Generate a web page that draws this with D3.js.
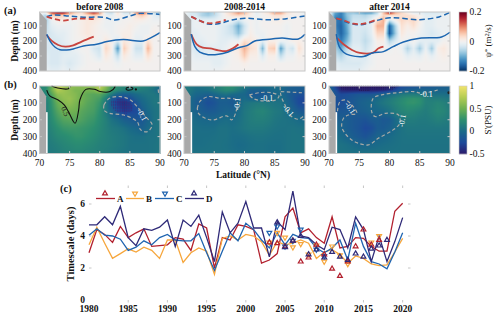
<!DOCTYPE html>
<html><head><meta charset="utf-8">
<script src="https://cdn.jsdelivr.net/npm/d3@7"></script>
<style>html,body{margin:0;padding:0;background:#fff;overflow:hidden}text{font-family:"Liberation Serif",serif;fill:#111}</style>
</head><body><svg id="c" width="500" height="316"></svg>
<script>
const lats = d3.range(70, 91);
const depthsA = [10,30,60,100,150,200,250,300,350,400];
const depthsB = [0,25,50,75,100,150,200,250,300,350,400];
const titles = ["before 2008","2008-2014","after 2014"];
const years = d3.range(1980, 2021);

const psi1 = [
[0,0,14,18,18,10,5,3,10,16,10,-3,-5,3,-4,-4,9,16,5,-5,-8],
[0,-6,4,6,4,2,1,1,3,5,3,-1,-2,1,-1,-1,3,5,2,-2,-3],
[0,-7,-1,1,1,0,0,1,2,2,1,-1,-1,-1,0,0,1,1,0,-1,-1],
[0,-5,-2,-1,-1,-1,0,1,2,1,0,-1,-1,0,0,1,0,-1,-1,0,0],
[0,-4,-3,-2,-2,-1,0,1,2,1,0,0,-1,0,1,1,-1,-1,-1,1,0],
[0,-3,-3,-3,-2,-1,0,0,1,1,-1,2,0,-3,2,1,-2,-2,3,0,0],
[0,-3,-3,-3,-3,-2,-1,0,0,-3,-4,4,1,-12,5,1,-4,-4,7,0,0],
[0,-2,-3,-3,-2,-2,-2,-1,0,-1,-3,2,0,-5,2,0,-2,-2,3,0,0],
[0,-2,-3,-3,-2,-3,-2,-1,0,0,0,0,0,-1,0,0,0,0,0,0,0],
[0,-1,-2,-2,-1,-2,-1,0,0,0,0,0,0,0,0,0,0,0,0,0,0]];
const psi2 = [
[0,-3,-4,-6,-8,-6,-2,2,5,10,7,2,-2,1,3,9,9,3,1,0,-2],
[0,-3,-3,-6,-7,-5,-2,1,3,4,3,1,-1,0,1,3,3,1,0,0,-1],
[0,-2,-1,-2,-2,-2,-1,0,-1,-3,-1,0,-1,0,0,1,1,0,0,0,0],
[0,-2,-1,-1,-1,-1,-2,-3,-5,-10,-4,0,-1,0,0,0,0,-1,0,0,0],
[0,-2,-2,-1,-1,-1,-2,-3,-4,-8,-3,1,-1,-1,0,0,0,-1,0,0,0],
[0,-2,-2,-2,-1,-1,-2,-2,-1,-1,3,2,1,-2,1,1,-1,-1,1,1,0],
[0,-2,-3,-3,-2,-2,-2,-1,1,2,7,3,2,-9,4,5,-11,-2,-4,3,0],
[0,-1,-2,-2,-2,-2,-2,-1,0,1,5,1,1,-3,1,1,-5,-1,-1,1,0],
[0,-1,-1,-1,-1,-2,-2,-1,0,0,1,0,0,0,0,0,0,0,0,0,0],
[0,0,-1,-1,-1,-1,-1,0,0,0,0,0,0,0,0,0,0,0,0,0,0]];
const psi3 = [
[0,-10,-14,-8,-8,-10,-12,-12,-6,6,18,8,4,1,-2,-2,-3,-3,-3,-2,-1],
[0,-12,-14,-8,-5,-5,-6,-4,-2,4,3,3,3,3,2,0,-2,-2,-2,-1,-1],
[0,-14,-15,-9,-4,-4,-4,-2,3,7,-3,1,4,3,4,1,-2,-2,-1,-1,-1],
[0,-14,-16,-10,-3,-3,-3,-2,7,7,-16,-6,3,1,3,0,-2,-2,-1,-1,-1],
[0,-12,-16,-11,-3,-3,-4,-2,4,4,-17,-7,2,0,0,-1,-2,-3,-2,-1,-1],
[0,-8,-14,-9,-3,-3,-5,-3,1,1,-6,-3,0,-1,0,-2,-2,-2,-2,0,0],
[0,-6,-10,-5,-2,-2,-4,-2,0,0,-1,0,-1,-6,-2,-7,-1,-7,1,2,0],
[0,-4,-6,-3,-2,-2,-3,-1,0,0,0,0,0,-2,-1,-2,0,-2,0,1,0],
[0,-2,-3,-3,-3,-3,-2,-1,0,0,0,0,0,0,0,0,0,0,0,0,0],
[0,-1,-2,-2,-2,-2,-1,0,0,0,0,0,0,0,0,0,0,0,0,0,0]];

const sal1 = [
[20,20,45,85,70,62,62,60,62,62,80,62,35,25,20,18,25,18,15,10,0],
[20,20,50,75,68,62,55,55,52,55,70,50,30,20,15,12,15,12,10,5,-5],
[20,15,40,62,65,62,58,50,45,42,42,30,10,-5,-10,-8,0,5,8,8,5],
[15,15,30,55,62,65,58,50,45,40,35,15,-12,-28,-28,-22,-8,0,5,8,8],
[15,12,28,48,58,62,55,50,42,38,30,10,-15,-32,-38,-32,-18,-3,3,8,8],
[10,12,25,40,50,52,50,42,38,35,25,10,-5,-20,-32,-28,-25,-12,0,5,8],
[10,12,22,32,40,42,42,38,33,30,22,15,5,0,-8,-12,-15,-15,-5,5,8],
[10,12,18,25,30,32,32,30,28,25,20,15,10,8,5,0,-3,-8,0,5,8],
[10,10,15,20,22,25,28,28,25,22,18,15,12,10,8,5,3,3,5,5,8],
[10,10,12,15,18,20,22,22,20,18,15,14,12,10,8,5,5,5,5,6,8],
[10,10,10,12,15,16,18,18,16,15,14,12,10,8,6,5,5,5,5,6,8]];
const sal2 = [
[10,8,5,6,8,12,18,25,25,18,12,8,5,2,2,2,0,-5,-10,-10,-8],
[10,8,2,2,4,10,15,20,18,10,2,-8,-8,-8,-5,0,0,-8,-10,-12,-12],
[8,5,-3,-5,-8,-3,2,5,0,-2,-3,-12,-15,-14,-10,-3,0,-8,-15,-20,-20],
[5,0,-8,-12,-18,-14,-8,-8,-12,-5,0,-5,-8,-8,-5,0,3,-5,-15,-25,-27],
[5,0,-10,-14,-22,-18,-10,-10,-13,-3,5,8,10,10,8,6,5,-2,-12,-25,-27],
[5,0,-6,-10,-13,-12,-8,-5,-6,0,8,12,16,18,14,10,8,2,-5,-12,-15],
[5,2,0,-2,-3,-3,0,2,0,3,8,12,14,14,12,8,6,5,3,0,-2],
[5,3,3,2,2,2,5,5,3,5,8,10,10,10,8,6,5,5,6,5,5],
[5,3,3,3,3,4,5,5,2,2,3,5,6,6,5,4,4,5,6,6,5],
[5,3,3,3,4,5,5,4,2,0,1,3,4,4,3,3,3,5,6,6,5],
[5,5,5,5,5,5,5,5,3,2,3,4,4,4,3,3,3,5,6,6,6]];
const sal3 = [
[0,-30,-50,-50,-50,-50,-50,-50,-50,-50,-45,-40,-25,-22,-20,-18,-15,-15,-12,-10,-8],
[0,-20,-42,-45,-45,-45,-45,-45,-45,-42,-35,-25,-15,-10,-8,-5,-5,-5,-5,-5,-5],
[0,-15,-25,-22,-18,-15,-15,-15,-10,-5,0,5,10,12,12,10,5,3,3,3,0],
[0,-18,-22,-18,-14,-10,-8,-5,0,5,10,15,20,25,27,25,15,12,12,10,8],
[0,-20,-22,-18,-14,-8,-5,-2,3,8,12,17,22,27,28,25,15,15,18,15,10],
[0,-15,-15,-14,-12,-10,-8,-4,-2,0,5,12,17,20,18,15,12,16,20,18,12],
[0,-8,-8,-10,-14,-16,-18,-12,-10,-14,-12,0,8,12,12,10,10,12,15,13,10],
[0,0,-5,-10,-14,-18,-25,-22,-12,-12,-8,0,5,8,8,8,8,8,8,8,8],
[0,2,0,-5,-10,-14,-18,-12,-5,-3,0,3,5,6,6,6,6,6,6,6,6],
[0,5,5,3,0,-3,-4,-2,0,2,3,4,5,5,5,5,5,5,5,5,5],
[0,5,5,5,5,5,5,5,5,5,5,5,5,5,5,5,5,5,5,5,5]];

// lat, depth pairs for the overlay lines in panel (a)
const blueSolid = [
[[71.2,155],[71.8,204],[72.6,242],[73.4,258],[74.5,260],[75.6,253],[77.3,233],[79.5,222],[81.2,204],[83.9,191],[87.2,200],[88.6,176],[90,144]],
[[71.2,155],[71.8,238],[72.6,275],[74,291],[75.7,289],[77.3,273],[79,245],[80.4,231],[81.7,200],[84.5,187],[86.2,180],[88.9,187],[90,155]],
[[71.2,155],[71.7,238],[72.4,275],[73.5,296],[75.7,304],[77.3,278],[79,271],[80.6,238],[82.3,207],[85,182],[88.6,173],[90,142]]];
const redSolid = [
[[71.2,160],[72,198],[73.1,227],[74.3,238],[75.6,229],[77,204],[79,171]],
[[71.2,155],[72.1,222],[73.1,245],[74.3,249],[75.7,262],[77,267],[78.1,249],[79,222]],
[[71.3,180],[72.4,222],[73.8,260],[75.1,280],[77.3,278],[78.2,249],[79,238]]];
const blueDash = [
[[71.2,38],[72.3,27],[74.5,33],[77.3,42],[80.6,42],[82.5,60],[85,33],[86.7,16],[90,24]],
[[71.2,38],[72.4,60],[74,87],[75.7,85],[77.9,60],[80.1,49],[83.4,58],[86.7,53],[90,33]],
[[71.2,49],[72.6,71],[75.1,93],[77.6,67],[80.1,45],[85,58],[88.3,38],[90,9]]];
const redDash = [
[[71.2,38],[72.6,55],[74,64],[76.2,51],[79,55]],
[[71.2,38],[72.6,65],[74,82],[75.7,75],[76.9,60]],
[[71.2,49],[72.3,60],[74,85],[75.7,85],[77.6,62]]];

// contours for panel (b)
const black05 = [[71.2,24],[71.7,59],[73.1,83],[74.1,112],[74.8,152],[75.9,221],[76.5,142],[76.7,83],[77.7,20],[79.2,20],[80.1,33],[81.7,33],[82.5,8],[82.5,0]];
const black05top = [[72,0],[73,12],[74.8,16],[75.1,0]];
const black05loop = [[84.4,12],[85,5],[85.5,14],[85,24],[84.4,20],[84.4,12]];
const grayB = [
 [[[80.7,112],[81.6,73],[83.5,63],[85.1,83],[86.2,122],[87.6,181],[88.7,231],[87.9,270],[86.8,260],[86.2,211],[84,172],[81.6,162],[80.7,142],[80.7,112]],
  [[89.7,20],[89.8,53]]],
 [[[72.2,132],[72.6,93],[74,63],[76,73],[77.6,73],[78.7,83],[78.6,152],[77.9,201],[77.05,177],[74.85,201],[73.5,191],[72.4,162],[72.2,132]],
  [[80.8,53],[82.6,39],[84.5,40],[85.7,60],[85,85],[83,88],[81.5,75],[80.8,53]],
  [[85.9,4],[86,53],[86.7,112],[87.5,172],[88.9,197],[90,170]],
  [[86,33],[89.5,40]]],
 [[[71.4,150],[71.8,93],[72.75,83],[74,122],[74.6,162],[73.2,172],[72.4,191],[72.1,241],[72.65,280],[73.75,320],[74.85,339],[76.5,349],[78.15,310],[80.6,260],[81.7,221],[81.5,172],[79.3,162],[77.6,181],[77.05,152],[77.3,73],[78.7,53],[81.5,39],[84,33],[85.3,43],[88.35,20]]]];
const labelsB = [
 [[74.3,150,"0.5",68,"#222"],[87,170,"-0.1",62,"#fff"]],
 [[78.8,107,"-0.1",-85,"#fff"],[83.7,75,"-0.1",0,"#fff"],[87.25,146,"-0.1",50,"#fff"]],
 [[73.5,130,"-0.1",55,"#fff"],[82.1,205,"-0.1",-80,"#fff"],[86.1,47,"-0.1",0,"#fff"]]];
const stipple1 = [[82,90],[83.5,72],[85.2,100],[85.6,140],[84.5,165],[82.5,150],[81.8,115]];
const stipple3 = [[71.8,0],[81.5,0],[80.5,22],[76,28],[72,24]];

const serA = [2.95,4.4,4.1,3.6,4.6,3.9,4.2,4.45,3.35,3.4,3.45,3.9,3.8,3.1,4.75,4.5,2.0,3.9,3.75,4.7,4.6,4.4,2.3,2.5,2.9,5.2,5.75,4.2,4.45,3.9,3.55,5.2,3.25,3.35,3.9,3.85,3.35,3.05,3.05,5.55,6.05];
const serB = [3.45,4.55,3.55,2.6,2.9,3.2,3.0,3.3,3.1,2.6,3.75,3.75,2.35,2.95,3.25,3.05,1.6,3.85,4,3.75,4.1,4,3.65,2.8,3.65,3.45,3.55,3.75,3.55,2.6,3.0,3.15,2.85,2.3,2.75,2.6,2.25,2.15,2.2,3.0,3.85];
const serC = [4.05,4.45,4.05,4,3.8,3.1,3.3,3.7,3.45,3.9,4.1,3.75,3.7,3.7,4.15,2.95,1.85,3.05,4.2,3.7,4.8,4.4,3.75,3.25,4.2,3.45,4.1,3.9,3.85,3.25,2.95,3.25,3.75,2.5,4.8,3.35,2.4,2.25,1.95,3,4.2];
const serD = [4.7,4.7,5.2,4.7,5.85,3.9,3.4,4.45,4.35,4.55,5.0,3.35,5.0,4.6,5.3,3.9,2.4,5.5,4.2,4.8,6.15,4.5,4.5,2.7,4.9,4.4,6.8,4.0,3.9,3.45,3.15,4.55,4.4,3.25,5.2,4.4,2.4,4,2.4,3.65,5.15];
const markA = [[2003,3.6],[2004,3.55],[2005,3.35],[2006,3.7],[2007,2.4],[2008,2.65],[2009,3.45],[2010,2.85],[2011,1.95],[2012,1.5],[2013,2.4],[2014,3.35],[2015,4.4],[2016,3.45],[2017,3.75]];
const markB = [[2003,3.6],[2004,4.2],[2005,3.9],[2006,3.3],[2007,3.5],[2008,2.85],[2009,3.4],[2010,2.4],[2011,3.35],[2012,2.8],[2013,2.25],[2016,3.6],[2017,4.0]];
const markC = [[2003,4.2],[2004,4.6],[2005,3.35],[2006,3.7],[2007,4.4],[2009,3.15],[2010,2.75]];
const markD = [[2004,4.85],[2005,3.3],[2006,3.7],[2007,4],[2008,2.85],[2009,3.15],[2010,2.65],[2011,3],[2012,2.7],[2013,2.5],[2014,2.9],[2015,2.7],[2016,3.2],[2017,3.4],[2018,3.75]];
const seriesNames = ["A","B","C","D"];
const seriesColors = ["#b2202e","#f6a63c","#1f64b0","#2f2a78"];

const svg = d3.select("#c");
const FRAME = "#c6c6c6";
const panelX = [[39.5,160],[184,305],[329,450]];
const psiColor = d3.scaleSequential(d3.interpolateRdBu).domain([0.2,-0.2]);
const salColor = d3.scaleLinear().domain([-0.5,-0.25,0,0.25,0.5,0.75,1])
  .range(["#2b1a6b","#1d4a9a","#1a6a88","#2c8f70","#6eb052","#b4cc52","#f2e46c"]).clamp(true);

function sample(grid, depths, lat, d){
  const i = Math.min(19, Math.max(0, Math.floor(lat-70)));
  const j = Math.min(depths.length-2, Math.max(0, d3.bisectRight(depths,d)-1));
  const t = Math.max(0,Math.min(1,lat-lats[i]));
  const u = Math.max(0,Math.min(1,(d-depths[j])/(depths[j+1]-depths[j])));
  return ((grid[j][i]*(1-t)+grid[j][i+1]*t)*(1-u)+(grid[j+1][i]*(1-t)+grid[j+1][i+1]*t)*u)/100;
}
function heat(g, x, y, grid, depths, color, w, h){
  const cv = document.createElement("canvas");
  const x0=x.range()[0], y0=y.range()[0];
  cv.width=w; cv.height=h;
  const ctx=cv.getContext("2d");
  for(let a=0;a<w;a++)for(let b=0;b<h;b++){
    ctx.fillStyle=color(sample(grid,depths,x.invert(x0+a+.5),y.invert(y0+b+.5)));
    ctx.fillRect(a,b,1,1);
  }
  g.append("image").attr("x",x0).attr("y",y0).attr("width",w).attr("height",h).attr("href",cv.toDataURL());
}
function frame(g,x,y,xt,yt,wd){
  const [l,r]=x.range(),[t,b]=y.range();
  g.append("rect").attr("x",l).attr("y",t).attr("width",r-l).attr("height",b-t).attr("fill","none").attr("stroke",FRAME).attr("stroke-width",wd);
  const tk=g.append("g").attr("stroke",FRAME).attr("stroke-width",1);
  xt.forEach(v=>{tk.append("line").attr("x1",x(v)).attr("x2",x(v)).attr("y1",b).attr("y2",b-2.5);
                 tk.append("line").attr("x1",x(v)).attr("x2",x(v)).attr("y1",t).attr("y2",t+2.5);});
  yt.forEach(v=>{tk.append("line").attr("y1",y(v)).attr("y2",y(v)).attr("x1",l).attr("x2",l+2.5);
                 tk.append("line").attr("y1",y(v)).attr("y2",y(v)).attr("x1",r).attr("x2",r-2.5);});
}
const latTicks=[75,80,85];
const lineGen=(x,y)=>d3.line().x(d=>x(d[0])).y(d=>y(d[1])).curve(d3.curveCatmullRom.alpha(.5));

[psi1,psi2,psi3].forEach((grid,p)=>{
  const x=d3.scaleLinear().domain([70,90]).range(panelX[p]);
  const y=d3.scaleLinear().domain([7,400]).range([12,71]);
  const g=svg.append("g");
  heat(g,x,y,grid,depthsA,psiColor,Math.round(x.range()[1]-x.range()[0]),59);
  const land=[[70,7],[71.2,60],[71.2,400],[70,400]];
  g.append("path").attr("d",d3.line().x(d=>x(d[0])).y(d=>y(d[1]))(land)).attr("fill","#a9a9a9");
  const lg=lineGen(x,y);
  const draw=(pts,col,w,dash)=>g.append("path").attr("d",lg(pts)).attr("fill","none").attr("stroke",col).attr("stroke-width",w).attr("stroke-dasharray",dash?"5.5 3":null);
  draw(redSolid[p],"#c8453f",1.8,false);
  draw(blueSolid[p],"#1c66b0",1.5,false);
  draw(blueDash[p],"#1c66b0",1.5,true);
  draw(redDash[p],"#c8453f",1.8,true);
  frame(g,x,y,latTicks,[100,200,300],1);
  [100,200,300,400].forEach(v=>g.append("text").attr("x",x(70)-2.5).attr("y",y(v)+3).attr("text-anchor","end").attr("font-size",9.5).text(v));
  g.append("text").attr("x",d3.mean(x.range())).attr("y",9.5).attr("text-anchor","middle").attr("font-size",9.5).attr("font-weight","bold").text(titles[p]);
});

[sal1,sal2,sal3].forEach((grid,p)=>{
  const x=d3.scaleLinear().domain([70,90]).range(panelX[p]);
  const y=d3.scaleLinear().domain([0,400]).range([86,153.5]);
  const g=svg.append("g");
  heat(g,x,y,grid,depthsB,salColor,Math.round(x.range()[1]-x.range()[0]),68);
  const line=d3.line().x(d=>x(d[0])).y(d=>y(d[1]));
  g.append("path").attr("d",line([[71,155],[71.35,155],[71.35,400],[71,400]])).attr("fill","#fff");
  g.append("path").attr("d",line([[70,0],[71.1,60],[71.1,400],[70,400]])).attr("fill","#a9a9a9");
  const st=p===0?stipple1:p===2?stipple3:null;
  if(st){ d3.range(70,90,0.3).forEach((la,i)=>d3.range(0,400,9).forEach(de=>{
    if(d3.polygonContains(st,[la,de])) g.append("circle").attr("cx",x(la)).attr("cy",y(de)).attr("r",.45).attr("fill",p===0?"#4a1f70":"#241040");
  }));}
  const lg=lineGen(x,y);
  if(p===0){
    [black05,black05top,black05loop].forEach(c=>g.append("path").attr("d",lg(c)).attr("fill","none").attr("stroke","#111").attr("stroke-width",1.1));
    g.append("circle").attr("cx",x(86)).attr("cy",y(20)).attr("r",1.1).attr("fill","#111");
  }
  if(p===2) g.append("circle").attr("cx",x(89.8)).attr("cy",y(40)).attr("r",1.4).attr("fill","#222");
  grayB[p].forEach(c=>g.append("path").attr("d",lg(c)).attr("fill","none").attr("stroke","#a8aaa6").attr("stroke-width",1.2).attr("stroke-dasharray","3.5 2.5"));
  labelsB[p].forEach(l=>g.append("text").attr("transform",`translate(${x(l[0])},${y(l[1])}) rotate(${l[3]})`).attr("text-anchor","middle").attr("dy","0.33em").attr("font-size",8).style("fill",l[4]).text(l[2]));
  frame(g,x,y,latTicks,[100,200,300],1);
  [0,100,200,300,400].forEach(v=>g.append("text").attr("x",x(70)-2.5).attr("y",y(v)+3).attr("text-anchor","end").attr("font-size",9.5).text(v));
  [70,75,80,85,90].forEach(v=>g.append("text").attr("x",x(v)).attr("y",165.5).attr("text-anchor","middle").attr("font-size",9.5).text(v));
});

function cbar(color,dom,top,bot,labels){
  const y=d3.scaleLinear().domain(dom).range([bot,top]);
  d3.range(top,bot).forEach(py=>svg.append("rect").attr("x",459).attr("y",py).attr("width",8).attr("height",1.2).attr("fill",color(y.invert(py+.5))));
  svg.append("rect").attr("x",459).attr("y",top).attr("width",8).attr("height",bot-top).attr("fill","none").attr("stroke",FRAME).attr("stroke-width",.6);
  labels.forEach(v=>svg.append("text").attr("x",469.5).attr("y",y(+v)+3).attr("font-size",9.5).text(v));
}
cbar(psiColor,[-0.2,0.2],12,71,["0.2","0","-0.2"]);
cbar(salColor,[-0.5,1],86,154,["1","0.5","0","-0.5"]);
const tPsi=svg.append("text").attr("transform","translate(491,41) rotate(-90)").attr("text-anchor","middle").attr("font-size",9);
tPsi.append("tspan").text("ψ");tPsi.append("tspan").attr("dy",-2).attr("font-size",7).text("*");tPsi.append("tspan").attr("dy",2).text(" (m");tPsi.append("tspan").attr("dy",-2.5).attr("font-size",6.5).text("2");tPsi.append("tspan").attr("dy",2.5).text("/s)");
svg.append("text").attr("transform","translate(491,120) rotate(-90)").attr("text-anchor","middle").attr("font-size",9).text("S'(PSU)");

[["(a)",4,14],["(b)",4,88],["(c)",60,192]].forEach(d=>svg.append("text").attr("x",d[1]).attr("y",d[2]).attr("font-size",10.5).attr("font-weight","bold").text(d[0]));
[41,120].forEach(c=>svg.append("text").attr("transform",`translate(18,${c}) rotate(-90)`).attr("text-anchor","middle").attr("font-size",9.5).attr("font-weight","bold").text("Depth (m)"));
svg.append("text").attr("x",243).attr("y",178).attr("text-anchor","middle").attr("font-size",9.5).attr("font-weight","bold").text("Latitude (°N)");

const xc=d3.scaleLinear().domain([1980,2021]).range([89,410.5]);
const yc=d3.scaleLinear().domain([0,7]).range([300,188]);
const gc=svg.append("g");
const line=d3.line().x((d,i)=>xc(years[i])).y(d=>yc(d));
[serA,serB,serC,serD].forEach((s,i)=>gc.append("path").attr("d",line(s)).attr("fill","none").attr("stroke",seriesColors[i]).attr("stroke-width",1.3));
const tri=d3.symbol().type(d3.symbolTriangle).size(10);
function marker(sel,px,py,col,down){
  sel.append("path").attr("d",tri()).attr("transform",`translate(${px},${py}) rotate(${down?180:0})`).attr("fill","none").attr("stroke",col).attr("stroke-width",1.2);
}
[[markB,1,true],[markC,2,true],[markA,0,false],[markD,3,false]].forEach(([m,i,dn])=>m.forEach(d=>marker(gc,xc(d[0]),yc(d[1]),seriesColors[i],dn)));
frame(gc,xc,yc,d3.range(1985,2021,5),[2,4,6],1.5);
d3.range(1980,2021,5).forEach(v=>gc.append("text").attr("x",xc(v)).attr("y",312).attr("text-anchor","middle").attr("font-size",9.5).attr("font-weight","bold").text(v));
[0,2,4,6].forEach(v=>gc.append("text").attr("x",85).attr("y",yc(v)+3).attr("text-anchor","end").attr("font-size",9.5).attr("font-weight","bold").text(v));
gc.append("text").attr("transform","translate(74,244) rotate(-90)").attr("text-anchor","middle").attr("font-size",10.5).attr("font-weight","bold").text("Timescale (days)");
[[96,115,105,117,false],[126,144,135,146,true],[155,174,165,176,true],[185,204,194,206,false]].forEach((l,i)=>{
  gc.append("line").attr("x1",l[0]).attr("x2",l[1]).attr("y1",198.5).attr("y2",198.5).attr("stroke",seriesColors[i]).attr("stroke-width",1.3);
  marker(gc,l[2],193.5,seriesColors[i],l[4]);
  gc.append("text").attr("x",l[3]).attr("y",202).attr("font-size",9).attr("font-weight","bold").text(seriesNames[i]);
});
</script></body></html>
